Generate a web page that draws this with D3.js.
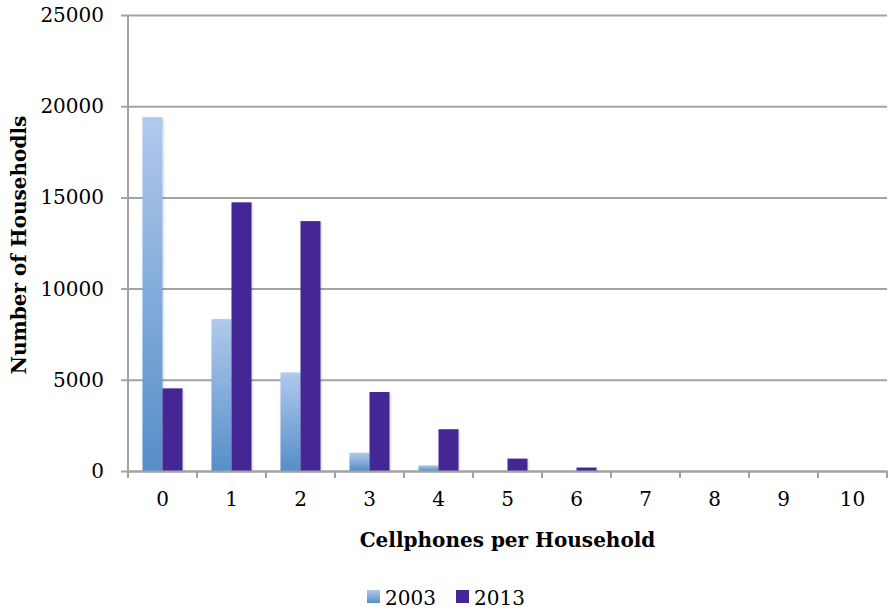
<!DOCTYPE html>
<html>
<head>
<meta charset="utf-8">
<script src="https://cdn.jsdelivr.net/npm/d3@7"></script>
<style>
    body { margin: 0; background: #fff; }
    text { font-family: "DejaVu Serif", serif; }
</style>
</head>
<body>
<div id="chart"></div>
<script>
// data
const categories = ['0', '1', '2', '3', '4', '5', '6', '7', '8', '9', '10']
const series = ['2003', '2013']
const values2003 = [19400, 8330, 5400, 1000, 310, 0, 0, 0, 0, 0, 0]
const values2013 = [4530, 14730, 13700, 4330, 2290, 680, 190, 0, 0, 0, 0]
const yTicks = [0, 5000, 10000, 15000, 20000, 25000]

const fullWidth = 888, fullHeight = 610
const margin = { top: 15, right: 1, bottom: 139, left: 128 }
const width = fullWidth - margin.left - margin.right,
    height = fullHeight - margin.top - margin.bottom

const svg = d3.select('#chart')
    .append('svg')
    .attr('width', fullWidth)
    .attr('height', fullHeight)

const defs = svg.append('defs')

defs.append('linearGradient')
    .attr('id', 'grad-2003')
    .attr('x1', 0).attr('x2', 0)
    .attr('y1', 0).attr('y2', 1)
    .selectAll('stop')
    .data([
        { offset: '0%', color: '#b1c9ec' },
        { offset: '100%', color: '#558ec9' }
    ])
    .enter().append('stop')
    .attr('offset', d => d.offset)
    .attr('stop-color', d => d.color)

defs.append('filter')
    .attr('id', 'shadow')
    .attr('x', '-20%').attr('y', '-5%')
    .attr('width', '150%').attr('height', '115%')
    .append('feDropShadow')
    .attr('dx', 1).attr('dy', 1)
    .attr('stdDeviation', 1)
    .attr('flood-color', '#000')
    .attr('flood-opacity', 0.18)

const fills = { '2003': 'url(#grad-2003)', '2013': '#452895' }

const g = svg.append('g')
    .attr('transform', 'translate(' + margin.left + ',' + margin.top + ')')

let x = d3.scaleBand()
    .domain(categories)
    .range([0, width])
    .padding(0)

let y = d3.scaleLinear()
    .domain([0, 25000])
    .range([height, 0])

// horizontal grid lines with left ticks
g.append('g')
    .attr('class', 'y-axis')
    .call(d3.axisLeft(y).tickValues(yTicks).tickFormat(d3.format('d'))
        .tickSize(-width).tickSizeOuter(0).tickPadding(24))
    .call(g => g.select('.domain').remove())
    .call(g => g.selectAll('.tick line')
        .attr('x1', -7)
        .attr('stroke', '#a3a3a3')
        .attr('stroke-width', 2))
    .call(g => g.selectAll('.tick text')
        .attr('font-size', 20)
        .attr('fill', '#000')
        .attr('font-family', '"DejaVu Serif", serif'))

// vertical axis line
g.append('line')
    .attr('x1', 0).attr('x2', 0)
    .attr('y1', 0).attr('y2', height + 7)
    .attr('stroke', '#a3a3a3')
    .attr('stroke-width', 2)

// bars
let barW = x.bandwidth() * 0.29
let offset = (x.bandwidth() - 2 * barW) / 2
let rows = categories.map((c, i) => ({ cat: c, '2003': values2003[i], '2013': values2013[i] }))

series.forEach((s, si) => {
    g.append('g')
        .attr('class', 'bar')
        .selectAll('rect')
        .data(rows.filter(d => d[s] > 0))
        .enter()
        .append('rect')
        .attr('x', d => x(d.cat) + offset + si * barW)
        .attr('y', d => y(d[s]))
        .attr('width', barW)
        .attr('height', d => height - y(d[s]))
        .attr('fill', fills[s])
        .attr('filter', 'url(#shadow)')
})

// category axis
g.append('g')
    .attr('class', 'x-axis')
    .attr('transform', 'translate(0,' + height + ')')
    .call(d3.axisBottom(x).tickSize(0).tickPadding(21))
    .call(g => g.select('.domain')
        .attr('stroke', '#a3a3a3')
        .attr('stroke-width', 2))
    .call(g => g.selectAll('.tick text')
        .attr('font-size', 20)
        .attr('fill', '#000')
        .attr('font-family', '"DejaVu Serif", serif'))

g.append('g')
    .selectAll('line')
    .data(categories.concat(['end']))
    .enter()
    .append('line')
    .attr('x1', d => d === 'end' ? width : x(d))
    .attr('x2', d => d === 'end' ? width : x(d))
    .attr('y1', height)
    .attr('y2', height + 7)
    .attr('stroke', '#a3a3a3')
    .attr('stroke-width', 2)

// axis titles
g.append('text')
    .attr('x', width / 2)
    .attr('y', height + 76)
    .attr('text-anchor', 'middle')
    .attr('font-size', 20)
    .attr('font-weight', 'bold')
    .text('Cellphones per Household')

svg.append('text')
    .attr('transform', 'translate(26,' + (margin.top + 230) + ') rotate(-90)')
    .attr('text-anchor', 'middle')
    .attr('font-size', 20)
    .attr('font-weight', 'bold')
    .text('Number of Househodls')

// legend
let legend = svg.append('g')
    .attr('class', 'legend')
    .attr('transform', 'translate(367,605)')

let items = [{ key: '2003', x: 0 }, { key: '2013', x: 89 }]

legend.selectAll('rect')
    .data(items)
    .enter()
    .append('rect')
    .attr('x', d => d.x)
    .attr('y', -15)
    .attr('width', 13)
    .attr('height', 13)
    .attr('fill', d => fills[d.key])

legend.selectAll('text')
    .data(items)
    .enter()
    .append('text')
    .attr('x', d => d.x + 18)
    .attr('y', 0)
    .attr('font-size', 20)
    .text(d => d.key)
</script>
</body>
</html>
